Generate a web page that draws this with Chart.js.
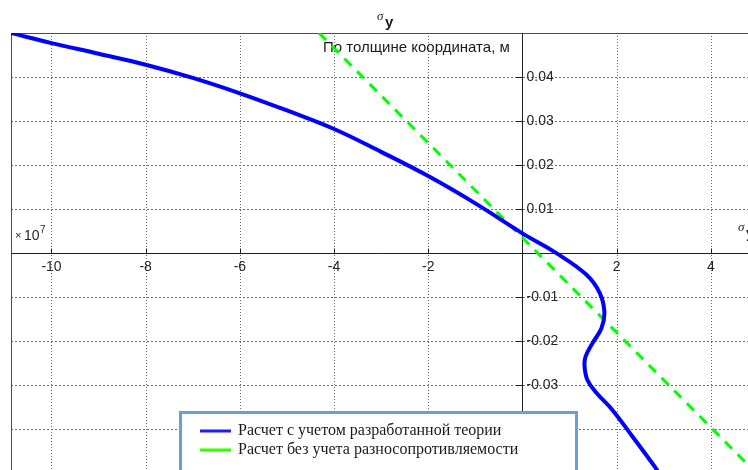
<!DOCTYPE html>
<html>
<head>
<meta charset="utf-8">
<script src="https://cdn.jsdelivr.net/npm/chart.js@4/dist/chart.umd.min.js"></script>
<style>
  html, body { margin: 0; padding: 0; background: #fff; overflow: hidden; }
  #wrap { width: 748px; height: 470px; position: relative; }
</style>
</head>
<body>
<div id="wrap"><canvas id="c" width="748" height="470"></canvas></div>
<script>
// Stress sigma_y (x10^7) across the thickness coordinate (m)
const theoryX = [-10.86, -10.0, -9.0, -8.0, -7.0, -6.0, -5.0, -4.0, -3.0, -2.0, -1.0, 0.0, 0.72, 1.36, 1.64, 1.74, 1.68, 1.49, 1.34, 1.32, 1.38, 1.57, 1.91, 2.34, 2.81, 2.90];
const theoryY = [0.0500, 0.0477, 0.0453, 0.0428, 0.0398, 0.0363, 0.0324, 0.0282, 0.0230, 0.0175, 0.0113, 0.0045, 0.0000, -0.0049, -0.0090, -0.0133, -0.0170, -0.0204, -0.0235, -0.0258, -0.0288, -0.0317, -0.0356, -0.0417, -0.0485, -0.0500];

const linearX = [-4.32, 4.97];
const linearY = [0.05, -0.05];

const xTicks = [-10, -8, -6, -4, -2, 2, 4];
const xTickLabels = ['-10', '-8', '-6', '-4', '-2', '2', '4'];
const yTicks = [0.04, 0.03, 0.02, 0.01, -0.01, -0.02, -0.03, -0.04];
const yTickLabels = ['0.04', '0.03', '0.02', '0.01', '-0.01', '-0.02', '-0.03', '-0.04'];

const seriesNames = ['Расчет с учетом разработанной теории', 'Расчет без учета разносопротивляемости'];
const yAxisTitle = 'По толщине координата, м';

const toPoints = (xs, ys) => xs.map((v, i) => ({ x: v, y: ys[i] }));

function seg(ctx, x1, y1, x2, y2) {
  ctx.beginPath(); ctx.moveTo(x1, y1); ctx.lineTo(x2, y2); ctx.stroke();
}

// Centered axes, dotted grid, tick labels
const axesPlugin = {
  id: 'centeredAxes',
  beforeDatasetsDraw(chart) {
    const { ctx, chartArea: a, scales: { x, y } } = chart;
    const x0 = Math.round(x.getPixelForValue(0)) + 0.5;
    const y0 = Math.round(y.getPixelForValue(0)) + 0.5;
    ctx.save();
    ctx.lineWidth = 1;
    ctx.strokeStyle = '#6a6a6a';
    ctx.setLineDash([1, 2]);
    xTicks.forEach(v => {
      const px = Math.round(x.getPixelForValue(v)) + 0.5;
      seg(ctx, px, a.top, px, a.bottom);
    });
    ctx.setLineDash([2, 2]);
    yTicks.forEach(v => {
      const py = Math.round(y.getPixelForValue(v)) + 0.5;
      seg(ctx, a.left, py, a.right, py);
    });
    ctx.setLineDash([]);

    // outer box (top and left edges)
    ctx.strokeStyle = '#4d4d4d';
    seg(ctx, a.left + 0.5, a.top + 0.5, a.right, a.top + 0.5);
    seg(ctx, a.left + 0.5, a.top + 0.5, a.left + 0.5, a.bottom);

    // axes through the origin
    ctx.strokeStyle = '#1e1e1e';
    seg(ctx, a.left, y0, a.right, y0);
    seg(ctx, x0, a.top, x0, a.bottom);

    // tick marks
    xTicks.forEach(v => {
      const px = Math.round(x.getPixelForValue(v)) + 0.5;
      seg(ctx, px, y0, px, y0 - 5);
    });
    yTicks.forEach(v => {
      const py = Math.round(y.getPixelForValue(v)) + 0.5;
      seg(ctx, x0, py, x0 - 6, py);
    });

    // tick labels
    ctx.fillStyle = '#262626';
    ctx.font = '14px "Liberation Sans", Arial, sans-serif';
    ctx.textAlign = 'center';
    ctx.textBaseline = 'middle';
    xTicks.forEach((v, i) => {
      ctx.fillText(xTickLabels[i], x.getPixelForValue(v), y0 + 14);
    });
    ctx.textAlign = 'left';
    yTicks.forEach((v, i) => {
      ctx.fillText(yTickLabels[i], x0 + 4, y.getPixelForValue(v));
    });

    // exponent of the x scale
    ctx.textBaseline = 'alphabetic';
    ctx.font = '11px "Liberation Sans", Arial, sans-serif';
    ctx.fillText('×', 15, 239);
    ctx.font = '14px "Liberation Sans", Arial, sans-serif';
    ctx.fillText('10', 24, 240);
    ctx.font = '10px "Liberation Sans", Arial, sans-serif';
    ctx.fillText('7', 40, 233);

    // y axis title
    ctx.font = '15px "Liberation Sans", Arial, sans-serif';
    ctx.fillStyle = '#1a1a1a';
    ctx.fillText(yAxisTitle, 323, 52);
    ctx.restore();
  },
  afterDraw(chart) {
    const { ctx } = chart;
    ctx.save();
    // sigma_y at the top and at the right end of the x axis
    const sigma = (sx, sy) => {
      ctx.fillStyle = '#1a1a1a';
      ctx.font = 'italic 13px "Liberation Serif", "Times New Roman", serif';
      ctx.textAlign = 'left';
      ctx.textBaseline = 'alphabetic';
      ctx.fillText('σ', sx, sy);
      ctx.font = 'bold 15px "Liberation Sans", Arial, sans-serif';
      ctx.fillText('y', sx + 8, sy + 7);
    };
    sigma(377, 20);
    sigma(738, 231);

    // legend
    const bx = 179, by = 411, bw = 399, bh = 64;
    ctx.fillStyle = '#ffffff';
    ctx.fillRect(bx, by, bw, bh);
    ctx.lineWidth = 3;
    ctx.strokeStyle = '#6b9fd3';
    ctx.strokeRect(bx + 1.5, by + 1.5, bw - 3, bh - 3);
    ctx.font = '16px "Liberation Serif", "Times New Roman", serif';
    ctx.textBaseline = 'middle';
    chart.data.datasets.forEach((ds, i) => {
      const ly = 431 + i * 19;
      ctx.strokeStyle = ds.legendColor;
      ctx.lineWidth = 3;
      ctx.setLineDash([]);
      seg(ctx, 200, ly, 231, ly);
      ctx.fillStyle = '#1a1a1a';
      ctx.fillText(ds.label, 238, ly);
    });
    ctx.restore();
  }
};

new Chart(document.getElementById('c'), {
  type: 'scatter',
  data: {
    datasets: [
      {
        label: seriesNames[0],
        data: toPoints(theoryX, theoryY),
        showLine: true,
        borderColor: '#0000ff',
        legendColor: '#1a1aff',
        borderWidth: 4,
        pointRadius: 0,
        tension: 0.4,
        borderCapStyle: 'round',
        borderJoinStyle: 'round'
      },
      {
        label: seriesNames[1],
        data: toPoints(linearX, linearY),
        showLine: true,
        borderColor: '#00ff00',
        legendColor: '#33ff00',
        borderWidth: 3,
        borderDash: [10, 8],
        pointRadius: 0,
        tension: 0
      }
    ]
  },
  options: {
    responsive: false,
    animation: false,
    devicePixelRatio: 1,
    layout: { padding: { left: 11, top: 33, right: 0, bottom: 0 } },
    plugins: { legend: { display: false }, tooltip: { enabled: false } },
    scales: {
      x: { type: 'linear', display: false, min: -10.86, max: 4.79 },
      y: { type: 'linear', display: false, min: -0.04925, max: 0.05 }
    }
  },
  plugins: [axesPlugin]
});
</script>
</body>
</html>
